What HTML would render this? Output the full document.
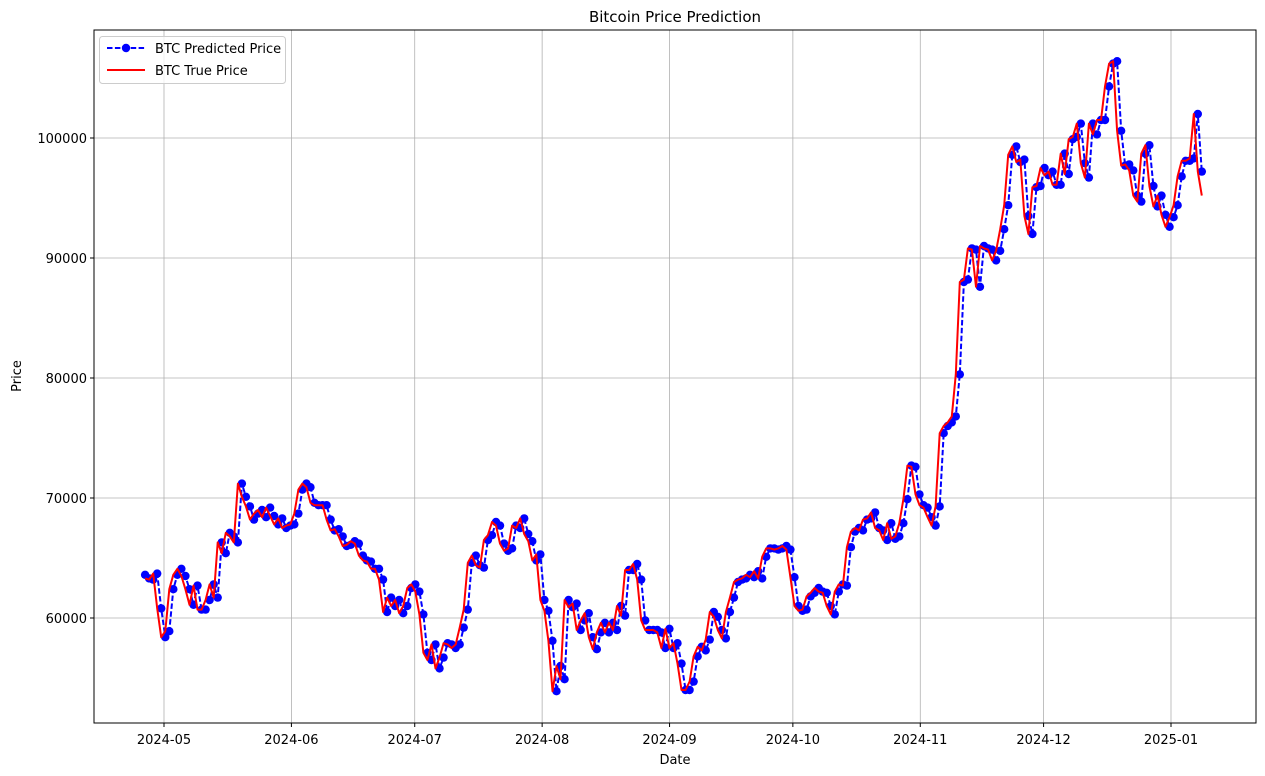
<!DOCTYPE html>
<html><head><meta charset="utf-8"><style>
body{margin:0;background:#fff;}
svg{display:block;font-family:"DejaVu Sans","Liberation Sans",sans-serif;}
</style></head><body>
<svg id="chart" width="1265" height="776">
<rect x="0" y="0" width="1265" height="776" fill="#fff"/>
<text x="675" y="22" text-anchor="middle" font-size="15">Bitcoin Price Prediction</text>
<text x="675" y="764" text-anchor="middle" font-size="13">Date</text>
<text transform="translate(21,376) rotate(-90)" text-anchor="middle" font-size="13">Price</text>
<g id="grid"></g>
<g id="ticks"></g>
<g id="series"></g>
<rect x="94" y="30" width="1162" height="693" fill="none" stroke="#000" stroke-width="1"/>
<g>
<rect x="99.5" y="36.5" width="186" height="47" rx="3" fill="#fff" fill-opacity="0.8" stroke="#ccc"/>
<g>
<line x1="107" y1="48" x2="145" y2="48" stroke="#0000ff" stroke-width="2" stroke-dasharray="5.5,2.4"/>
<circle cx="126" cy="48" r="4.2" fill="#0000ff"/>
<text x="155" y="53" font-size="13">BTC Predicted Price</text>
</g>
<g>
<line x1="107" y1="70" x2="145" y2="70" stroke="#ff0000" stroke-width="2"/>
<text x="155" y="75" font-size="13">BTC True Price</text>
</g>
</g>
</svg>
<script>
const predicted=[63600,63300,63200,63700,60800,58400,58900,62400,63600,64100,63500,62400,61100,62700,60700,60700,61500,62800,61700,66300,65400,67100,66800,66300,71200,70100,69300,68200,68700,69000,68400,69200,68500,67800,68300,67500,67700,67800,68700,70700,71200,70900,69600,69400,69400,69400,68200,67300,67400,66800,66000,66100,66400,66200,65200,64800,64700,64100,64100,63200,60500,61700,61000,61500,60400,61000,62500,62800,62200,60300,57100,56500,57800,55800,56700,57900,57800,57500,57800,59200,60700,64600,65200,64400,64200,66500,66900,68000,67700,66200,65600,65800,67700,67500,68300,67000,66400,64800,65300,61500,60600,58100,53900,56000,54900,61500,60900,61200,59000,59800,60400,58400,57400,58800,59600,58800,59600,59000,61000,60200,64000,64000,64500,63200,59800,59000,59000,59000,58800,57500,59100,57500,57900,56200,54000,54000,54700,56800,57600,57300,58200,60500,60100,59000,58300,60500,61700,63000,63200,63300,63600,63400,63900,63300,65100,65800,65800,65700,65800,66000,65700,63400,61000,60600,60700,61800,62100,62500,62200,62100,61000,60300,62200,62800,62700,65900,67200,67500,67300,68200,68300,68800,67500,67300,66500,67900,66600,66800,67900,69900,72700,72600,70300,69400,69200,68400,67700,69300,75400,76000,76300,76800,80300,88000,88200,90800,90700,87600,91000,90800,90700,89800,90600,92400,94400,98600,99300,98000,98200,93500,92000,95900,96000,97500,96900,97200,96100,96100,98700,97000,99900,100100,101200,97900,96700,101200,100300,101500,101500,104300,106200,106400,100600,97700,97800,97300,95200,94700,98700,99400,96000,94300,95200,93600,92600,93400,94400,96800,98100,98100,98300,102000,97200];
const truePrice=[63300,63200,63700,60800,58400,58900,62400,63600,64100,63500,62400,61100,62700,60700,60700,61500,62800,61700,66300,65400,67100,66800,66300,71200,70100,69300,68200,68700,69000,68400,69200,68500,67800,68300,67500,67700,67800,68700,70700,71200,70900,69600,69400,69400,69400,68200,67300,67400,66800,66000,66100,66400,66200,65200,64800,64700,64100,64100,63200,60500,61700,61000,61500,60400,61000,62500,62800,62200,60300,57100,56500,57800,55800,56700,57900,57800,57500,57800,59200,60700,64600,65200,64400,64200,66500,66900,68000,67700,66200,65600,65800,67700,67500,68300,67000,66400,64800,65300,61500,60600,58100,53900,56000,54900,61500,60900,61200,59000,59800,60400,58400,57400,58800,59600,58800,59600,59000,61000,60200,64000,64000,64500,63200,59800,59000,59000,59000,58800,57500,59100,57500,57900,56200,54000,54000,54700,56800,57600,57300,58200,60500,60100,59000,58300,60500,61700,63000,63200,63300,63600,63400,63900,63300,65100,65800,65800,65700,65800,66000,65700,63400,61000,60600,60700,61800,62100,62500,62200,62100,61000,60300,62200,62800,62700,65900,67200,67500,67300,68200,68300,68800,67500,67300,66500,67900,66600,66800,67900,69900,72700,72600,70300,69400,69200,68400,67700,69300,75400,76000,76300,76800,80300,88000,88200,90800,90700,87600,91000,90800,90700,89800,90600,92400,94400,98600,99300,98000,98200,93500,92000,95900,96000,97500,96900,97200,96100,96100,98700,97000,99900,100100,101200,97900,96700,101200,100300,101500,101500,104300,106200,106400,100600,97700,97800,97300,95200,94700,98700,99400,96000,94300,95200,93600,92600,93400,94400,96800,98100,98100,98300,102000,97200,95200];
const xTickDates=["2024-05-01","2024-06-01","2024-07-01","2024-08-01","2024-09-01","2024-10-01","2024-11-01","2024-12-01","2025-01-01"];
const xTickLabels=["2024-05","2024-06","2024-07","2024-08","2024-09","2024-10","2024-11","2024-12","2025-01"];
const yTicks=[60000,70000,80000,90000,100000];
const startDate="2024-04-26", endDate="2025-01-08";

const NS="http://www.w3.org/2000/svg";
const DAY=86400000;
const d0=Date.parse("2024-05-01"), d1=Date.parse("2025-01-01");
function xScale(t){return 164+(t-d0)/(d1-d0)*(1171-164);}
function yScale(v){return 618-(v-60000)*(618-138)/40000;}
function mk(tag,attrs,parent){const e=document.createElementNS(NS,tag);for(const k in attrs)e.setAttribute(k,attrs[k]);parent.appendChild(e);return e;}
const grid=document.getElementById('grid'),ticks=document.getElementById('ticks'),series=document.getElementById('series');
xTickDates.forEach((d,i)=>{
  const x=xScale(Date.parse(d));
  const g=mk('line',{x1:x,y1:30,x2:x,y2:723,stroke:'#b0b0b0','stroke-width':0.8},grid);
  
  
  const t=mk('line',{x1:x,y1:723,x2:x,y2:727,stroke:'#000'},ticks);
  
  
  const l=mk('text',{x:x,y:744,'text-anchor':'middle','font-size':13},ticks);
  l.textContent=xTickLabels[i];
  
  
});
yTicks.forEach(v=>{
  const y=yScale(v);
  const g=mk('line',{x1:94,y1:y,x2:1256,y2:y,stroke:'#b0b0b0','stroke-width':0.8},grid);
  
  
  const t=mk('line',{x1:90,y1:y,x2:94,y2:y,stroke:'#000'},ticks);
  
  
  const l=mk('text',{x:87,y:y+5,'text-anchor':'end','font-size':13},ticks);
  l.textContent=String(v);
  
  
});
const s0=Date.parse(startDate)+0.4*DAY,s1=Date.parse(endDate)+0.5*DAY;
const n=predicted.length;
function xi(i){return xScale(s0+(s1-s0)*i/(n-1));}
const pPts=predicted.map((v,i)=>xi(i).toFixed(1)+','+yScale(v).toFixed(1)).join(' ');
const tPts=truePrice.map((v,i)=>xi(i).toFixed(1)+','+yScale(v).toFixed(1)).join(' ');
const pl=mk('polyline',{points:pPts,fill:'none',stroke:'#0000ff','stroke-width':2,'stroke-dasharray':'5.5,2.4'},series);


predicted.forEach((v,i)=>{
  const c=mk('circle',{cx:xi(i),cy:yScale(v),r:4.2,fill:'#0000ff'},series);
  
  
});
const tl=mk('polyline',{points:tPts,fill:'none',stroke:'#ff0000','stroke-width':2,'stroke-linejoin':'round'},series);


</script>
</body></html>
